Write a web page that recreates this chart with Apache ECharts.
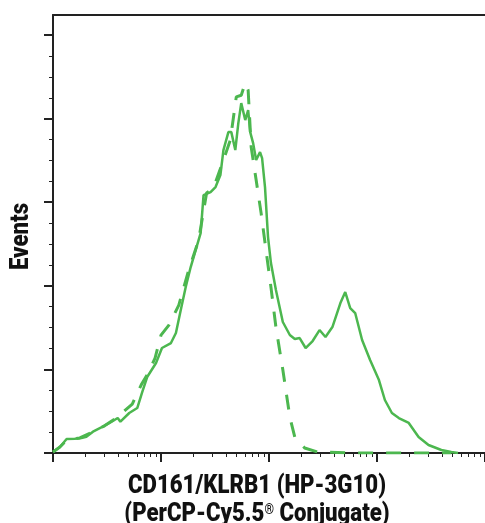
<!DOCTYPE html>
<html>
<head>
<meta charset="utf-8">
<script src="https://cdn.jsdelivr.net/npm/echarts@6/dist/echarts.min.js"></script>
<style>
html,body{margin:0;padding:0;background:#fff;}
#chart{width:485px;height:523px;}
</style>
</head>
<body>
<div id="chart"></div>
<script>
// x values are log10 fluorescence intensity (decades); y values are event counts (major tick = 20)
const sampleX = [1.00,1.064,1.126,1.202,1.263,1.309,1.370,1.461,1.539,1.599,1.624,1.706,1.780,1.826,1.872,1.954,2.009,2.092,2.138,2.183,2.229,2.275,2.321,2.367,2.394,2.459,2.505,2.550,2.578,2.624,2.651,2.688,2.716,2.743,2.780,2.807,2.826,2.853,2.881,2.917,2.936,2.963,2.991,3.018,3.064,3.128,3.193,3.239,3.284,3.339,3.404,3.468,3.523,3.587,3.661,3.706,3.752,3.798,3.862,3.936,4.018,4.073,4.138,4.202,4.294,4.385,4.477,4.596,4.688,4.75];
const sampleY = [0.3,1.44,3.35,3.42,3.59,3.90,5.10,6.29,7.42,8.37,7.49,9.57,10.76,14.59,18.18,21.53,25.12,26.31,28.70,34.21,39.71,44.49,48.56,52.62,61.71,62.43,63.63,66.50,72.48,76.78,76.78,72.48,78.94,83.72,79.66,82.05,76.78,74.15,70.09,72.00,70.57,63.63,51.67,45.45,38.99,31.34,28.23,27.27,27.51,25.12,26.79,29.42,27.75,30.14,35.88,38.51,34.68,33.49,27.03,22.25,17.46,12.68,9.57,8.37,7.18,3.83,1.91,0.72,0.24,0];
const controlX = [1.00,1.064,1.128,1.248,1.367,1.477,1.587,1.734,1.817,1.872,1.945,2.000,2.073,2.165,2.257,2.349,2.422,2.486,2.578,2.642,2.697,2.743,2.780,2.807,2.835,2.881,2.927,2.972,3.018,3.064,3.128,3.193,3.239,3.330,3.450,3.817,4.688];
const controlY = [0.2,1.44,3.1,3.6,5.0,6.5,8.4,11.7,16.3,18.7,22.7,28.2,30.6,35.4,43.8,51.0,62.2,63.4,70.1,74.9,85.2,85.6,88.5,86.8,73.2,65.3,57.4,48.6,39.7,30.1,19.9,8.6,3.8,1.2,0.24,0,0];
const xMajorTicks = [1,2,3,4,5];
const xMinorTicks = [1.301,1.477,1.602,1.699,1.778,1.845,1.903,1.954,
                     2.301,2.477,2.602,2.699,2.778,2.845,2.903,2.954,
                     3.301,3.477,3.602,3.699,3.778,3.845,3.903,3.954,
                     4.301,4.477,4.602,4.699,4.778,4.845,4.903,4.954];
const yMajorTicks = [0,20,40,60,80,100];
const yMinorTicks = [5,10,15,25,30,35,45,50,55,65,70,75,85,90,95];
const xTitle = 'CD161/KLRB1 (HP-3G10)\n(PerCP-Cy5.5{sup|®} Conjugate)';
const yTitle = 'Events';

const green = '#4cb74f';
const axisColor = '#222';
const font = 'Roboto, "DejaVu Sans Condensed", sans-serif';

const chart = echarts.init(document.getElementById('chart'), null, {renderer:'canvas'});
const toPairs = (xs, ys) => xs.map((x,i)=>[x, ys[i]]);
const xBase = {type:'value', min:1, max:5, splitLine:{show:false}, axisLabel:{show:false}};
const yBase = {type:'value', min:0, max:104.8, splitLine:{show:false}, axisLabel:{show:false}};

chart.setOption({
  animation:false,
  backgroundColor:'#fff',
  grid:{left:53, top:15, right:-4, bottom:70, containLabel:false},
  xAxis:[
    Object.assign({}, xBase, {
      position:'bottom',
      axisLine:{show:true, lineStyle:{color:axisColor, width:2}},
      axisTick:{show:true, customValues:xMajorTicks, length:9, inside:false, lineStyle:{color:axisColor, width:2}}
    }),
    Object.assign({}, xBase, {
      position:'bottom',
      axisLine:{show:false},
      axisTick:{show:true, customValues:xMinorTicks, length:4, lineStyle:{color:axisColor, width:1}}
    }),
    Object.assign({}, xBase, {
      position:'top',
      axisLine:{show:true, lineStyle:{color:axisColor, width:2}},
      axisTick:{show:false}
    })
  ],
  yAxis:[
    Object.assign({}, yBase, {
      position:'left',
      axisLine:{show:true, lineStyle:{color:axisColor, width:2}},
      axisTick:{show:true, customValues:yMajorTicks, length:9, lineStyle:{color:axisColor, width:2}}
    }),
    Object.assign({}, yBase, {
      position:'left',
      axisLine:{show:false},
      axisTick:{show:true, customValues:yMinorTicks, length:4, lineStyle:{color:axisColor, width:1}}
    })
  ],
  graphic:[
    {type:'text', x:257, y:501, scaleX:0.87, silent:true,
     style:{text:xTitle, fontFamily:font, fontWeight:900, fontSize:25.5, lineHeight:28, fill:'#111',
            align:'center', verticalAlign:'middle',
            rich:{sup:{fontFamily:font, fontWeight:900, fontSize:14, fill:'#111', padding:[0,0,10,0]}}}},
    {type:'text', x:21.5, y:236.5, rotation:Math.PI/2, scaleX:0.87, silent:true,
     style:{text:yTitle, fontFamily:font, fontWeight:900, fontSize:25.5, fill:'#111',
            align:'center', verticalAlign:'middle'}}
  ],
  series:[
    {type:'line', name:'control', xAxisIndex:0, yAxisIndex:0, data:toPairs(controlX, controlY),
     showSymbol:false, symbol:'none', smooth:false,
     lineStyle:{color:green, width:3, type:[15,13]}},
    {type:'line', name:'sample', xAxisIndex:0, yAxisIndex:0, data:toPairs(sampleX, sampleY),
     showSymbol:false, symbol:'none', smooth:false,
     lineStyle:{color:green, width:2.5}}
  ]
});
</script>
</body>
</html>
